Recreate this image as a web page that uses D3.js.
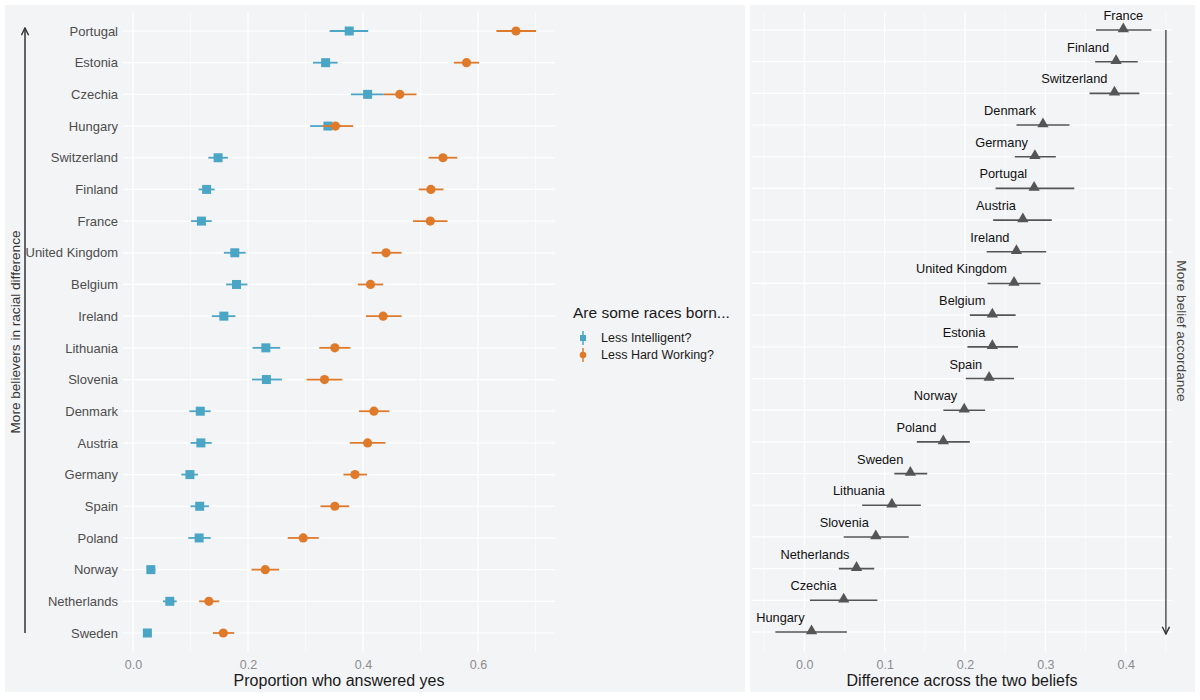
<!DOCTYPE html>
<html>
<head>
<meta charset="utf-8">
<script src="https://cdn.jsdelivr.net/npm/d3@7"></script>
<style>
  body { margin: 0; background: #fff; }
  text { font-family: "Liberation Sans", Arial, sans-serif; }
</style>
</head>
<body>
<svg id="chart" width="1200" height="700"></svg>
<script>
// left panel: proportion answering yes, ordered top to bottom
const countries = ["Portugal", "Estonia", "Czechia", "Hungary", "Switzerland", "Finland", "France",
  "United Kingdom", "Belgium", "Ireland", "Lithuania", "Slovenia", "Denmark", "Austria", "Germany",
  "Spain", "Poland", "Norway", "Netherlands", "Sweden"];
const intel =    [0.376, 0.335, 0.408, 0.339, 0.148, 0.128, 0.119, 0.177, 0.180, 0.158, 0.231, 0.232, 0.117, 0.118, 0.099, 0.116, 0.115, 0.031, 0.064, 0.025];
const intelLo =  [0.342, 0.313, 0.379, 0.308, 0.131, 0.114, 0.101, 0.158, 0.162, 0.137, 0.208, 0.207, 0.098, 0.100, 0.084, 0.100, 0.096, 0.024, 0.052, 0.018];
const intelHi =  [0.409, 0.356, 0.436, 0.363, 0.165, 0.142, 0.137, 0.196, 0.199, 0.178, 0.256, 0.259, 0.135, 0.137, 0.113, 0.132, 0.135, 0.039, 0.076, 0.032];
const work =     [0.666, 0.580, 0.464, 0.352, 0.539, 0.518, 0.517, 0.440, 0.413, 0.435, 0.351, 0.333, 0.419, 0.408, 0.386, 0.351, 0.296, 0.230, 0.132, 0.157];
const workLo =   [0.632, 0.558, 0.436, 0.329, 0.514, 0.497, 0.487, 0.415, 0.391, 0.405, 0.324, 0.302, 0.393, 0.377, 0.366, 0.326, 0.269, 0.206, 0.115, 0.139];
const workHi =   [0.701, 0.602, 0.493, 0.383, 0.564, 0.540, 0.547, 0.467, 0.435, 0.467, 0.378, 0.364, 0.446, 0.439, 0.407, 0.376, 0.323, 0.254, 0.150, 0.176];

// right panel: difference between the two beliefs, ordered top to bottom
const diffCountries = ["France", "Finland", "Switzerland", "Denmark", "Germany", "Portugal", "Austria",
  "Ireland", "United Kingdom", "Belgium", "Estonia", "Spain", "Norway", "Poland", "Sweden", "Lithuania",
  "Slovenia", "Netherlands", "Czechia", "Hungary"];
const diff =   [0.397, 0.388, 0.386, 0.297, 0.287, 0.286, 0.272, 0.264, 0.261, 0.234, 0.234, 0.230, 0.199, 0.173, 0.132, 0.109, 0.089, 0.065, 0.049, 0.009];
const diffLo = [0.363, 0.362, 0.355, 0.264, 0.262, 0.238, 0.235, 0.227, 0.228, 0.206, 0.203, 0.201, 0.173, 0.140, 0.112, 0.072, 0.049, 0.043, 0.007, -0.036];
const diffHi = [0.432, 0.415, 0.417, 0.330, 0.313, 0.336, 0.308, 0.301, 0.294, 0.263, 0.266, 0.261, 0.225, 0.206, 0.153, 0.145, 0.130, 0.087, 0.091, 0.053];

const leftTicks = [0, 0.2, 0.4, 0.6];
const leftMinor = [0.1, 0.3, 0.5, 0.7];
const rightTicks = [0, 0.1, 0.2, 0.3, 0.4];
const rightMinor = [-0.05, 0.05, 0.15, 0.25, 0.35, 0.45];
const seriesNames = ["Less Intelligent?", "Less Hard Working?"];

const blue = "#4ba6c6", orange = "#e07a2b", grey = "#555555", bg = "#f3f4f6";
const font = "Liberation Sans, Arial, sans-serif";

const svg = d3.select("#chart");

// plot backgrounds
svg.append("rect").attr("x", 5).attr("y", 5).attr("width", 740).attr("height", 687).attr("fill", bg);
svg.append("rect").attr("x", 750).attr("y", 5).attr("width", 445).attr("height", 687).attr("fill", bg);

const panelTop = 12, panelBottom = 652;

// ---- left panel ----
const xL = d3.scaleLinear().domain([-0.0174, 0.7339]).range([123, 555]);
const yL = d3.scalePoint().domain(countries).range([31, 633]);

const gL = svg.append("g");
gL.selectAll(".minor").data(leftMinor).join("line")
    .attr("x1", d => xL(d)).attr("x2", d => xL(d))
    .attr("y1", panelTop).attr("y2", panelBottom)
    .attr("stroke", "#fff").attr("stroke-width", 0.6);
gL.selectAll(".major").data(leftTicks).join("line")
    .attr("x1", d => xL(d)).attr("x2", d => xL(d))
    .attr("y1", panelTop).attr("y2", panelBottom)
    .attr("stroke", "#fff").attr("stroke-width", 1.2);
gL.selectAll(".hgrid").data(countries).join("line")
    .attr("x1", xL.range()[0]).attr("x2", xL.range()[1])
    .attr("y1", d => yL(d)).attr("y2", d => yL(d))
    .attr("stroke", "#fff").attr("stroke-width", 1.2);

const axL = d3.axisBottom(xL).tickValues(leftTicks).tickFormat(d3.format(".1f")).tickSize(0).tickPadding(8);
gL.append("g").attr("transform", `translate(0,${panelBottom})`).call(axL)
  .call(g => g.select(".domain").remove())
  .selectAll("text").attr("font-size", 12.5).attr("fill", "#8c8c8c").attr("font-family", font);

const ayL = d3.axisLeft(yL).tickSize(0).tickPadding(5);
gL.append("g").attr("transform", `translate(${xL.range()[0]},0)`).call(ayL)
  .call(g => g.select(".domain").remove())
  .selectAll("text").attr("font-size", 13).attr("fill", "#4d4d4d").attr("font-family", font);

// blue series
gL.selectAll(".bbar").data(countries).join("line")
    .attr("x1", (d, i) => xL(intelLo[i])).attr("x2", (d, i) => xL(intelHi[i]))
    .attr("y1", d => yL(d)).attr("y2", d => yL(d))
    .attr("stroke", blue).attr("stroke-width", 1.8);
gL.selectAll(".bpt").data(countries).join("rect")
    .attr("x", (d, i) => xL(intel[i]) - 4.5).attr("y", d => yL(d) - 4.5)
    .attr("width", 9).attr("height", 9).attr("fill", blue);

// orange series
gL.selectAll(".obar").data(countries).join("line")
    .attr("x1", (d, i) => xL(workLo[i])).attr("x2", (d, i) => xL(workHi[i]))
    .attr("y1", d => yL(d)).attr("y2", d => yL(d))
    .attr("stroke", orange).attr("stroke-width", 1.8);
gL.selectAll(".opt").data(countries).join("circle")
    .attr("cx", (d, i) => xL(work[i])).attr("cy", d => yL(d))
    .attr("r", 4.6).attr("fill", orange);

gL.append("text").attr("x", d3.mean(xL.range())).attr("y", 686)
  .attr("text-anchor", "middle").attr("font-size", 16).attr("fill", "#1a1a1a")
  .text("Proportion who answered yes");

// arrows
const defs = svg.append("defs");
defs.append("marker").attr("id", "arr").attr("viewBox", "0 0 10 10")
  .attr("refX", 9).attr("refY", 5).attr("markerWidth", 9).attr("markerHeight", 9)
  .attr("markerUnits", "userSpaceOnUse").attr("orient", "auto")
  .append("path").attr("d", "M1,1 L9,5 L1,9").attr("fill", "none")
  .attr("stroke", "#333").attr("stroke-width", 1.6);

gL.append("line").attr("x1", 25).attr("x2", 25)
  .attr("y1", yL(countries[countries.length - 1])).attr("y2", yL(countries[0]) - 3)
  .attr("stroke", "#333").attr("stroke-width", 1.5).attr("marker-end", "url(#arr)");
gL.append("text").attr("transform", `translate(20,${d3.mean(yL.range())}) rotate(-90)`)
  .attr("text-anchor", "middle").attr("font-size", 13.6).attr("fill", "#333")
  .text("More believers in racial difference");

// legend
const lg = svg.append("g").attr("transform", "translate(573,318)");
lg.append("text").attr("x", 0).attr("y", 0).attr("font-size", 15.5).attr("fill", "#1a1a1a")
  .text("Are some races born...");
const keys = lg.selectAll(".key").data(seriesNames).join("g")
  .attr("transform", (d, i) => `translate(0,${20 + i * 17})`);
keys.append("line").attr("x1", 10).attr("x2", 10).attr("y1", -7).attr("y2", 7)
  .attr("stroke", (d, i) => i === 0 ? blue : orange).attr("stroke-width", 1.5);
keys.filter((d, i) => i === 0).append("rect").attr("x", 7).attr("y", -3).attr("width", 6).attr("height", 6).attr("fill", blue);
keys.filter((d, i) => i === 1).append("circle").attr("cx", 10).attr("cy", 0).attr("r", 3.3).attr("fill", orange);
keys.append("text").attr("x", 28).attr("y", 0).attr("dy", "0.35em").attr("font-size", 12.5).attr("fill", "#1a1a1a")
  .text(d => d);

// ---- right panel ----
const xR = d3.scaleLinear().domain([-0.0651, 0.4576]).range([752, 1172]);
const yR = d3.scalePoint().domain(diffCountries).range([30, 632]);
const gR = svg.append("g");

gR.selectAll(".minor").data(rightMinor).join("line")
    .attr("x1", d => xR(d)).attr("x2", d => xR(d))
    .attr("y1", panelTop).attr("y2", panelBottom)
    .attr("stroke", "#fff").attr("stroke-width", 0.6);
gR.selectAll(".major").data(rightTicks).join("line")
    .attr("x1", d => xR(d)).attr("x2", d => xR(d))
    .attr("y1", panelTop).attr("y2", panelBottom)
    .attr("stroke", "#fff").attr("stroke-width", 1.2);
gR.selectAll(".hgrid").data(diffCountries).join("line")
    .attr("x1", xR.range()[0]).attr("x2", xR.range()[1])
    .attr("y1", d => yR(d)).attr("y2", d => yR(d))
    .attr("stroke", "#fff").attr("stroke-width", 1.2);

const axR = d3.axisBottom(xR).tickValues(rightTicks).tickFormat(d3.format(".1f")).tickSize(0).tickPadding(8);
gR.append("g").attr("transform", `translate(0,${panelBottom})`).call(axR)
  .call(g => g.select(".domain").remove())
  .selectAll("text").attr("font-size", 12.5).attr("fill", "#8c8c8c").attr("font-family", font);

gR.selectAll(".dbar").data(diffCountries).join("line")
    .attr("x1", (d, i) => xR(diffLo[i])).attr("x2", (d, i) => xR(diffHi[i]))
    .attr("y1", d => yR(d)).attr("y2", d => yR(d))
    .attr("stroke", grey).attr("stroke-width", 1.6);
const tri = d3.symbol().type(d3.symbolTriangle).size(55);
gR.selectAll(".dpt").data(diffCountries).join("path")
    .attr("d", tri)
    .attr("transform", (d, i) => `translate(${xR(diff[i])},${yR(d) - 1})`)
    .attr("fill", grey);
// labels sit above-left of each point; the top one is centred on its point
gR.selectAll(".dlab").data(diffCountries).join("text")
    .attr("x", (d, i) => i === 0 ? xR(diff[i]) : xR(diff[i]) - 7).attr("y", d => yR(d) - 10)
    .attr("text-anchor", (d, i) => i === 0 ? "middle" : "end")
    .attr("font-size", 12.8).attr("fill", "#111")
    .text(d => d);

gR.append("line").attr("x1", xR(0.45)).attr("x2", xR(0.45))
  .attr("y1", yR(diffCountries[0])).attr("y2", yR(diffCountries[diffCountries.length - 1]) + 2)
  .attr("stroke", grey).attr("stroke-width", 1.5).attr("marker-end", "url(#arr)");
gR.append("text").attr("transform", `translate(1177,${d3.mean(yR.range())}) rotate(90)`)
  .attr("text-anchor", "middle").attr("font-size", 13.6).attr("fill", "#444")
  .text("More belief accordance");

gR.append("text").attr("x", d3.mean(xR.range())).attr("y", 686)
  .attr("text-anchor", "middle").attr("font-size", 16).attr("fill", "#1a1a1a")
  .text("Difference across the two beliefs");
</script>
</body>
</html>
